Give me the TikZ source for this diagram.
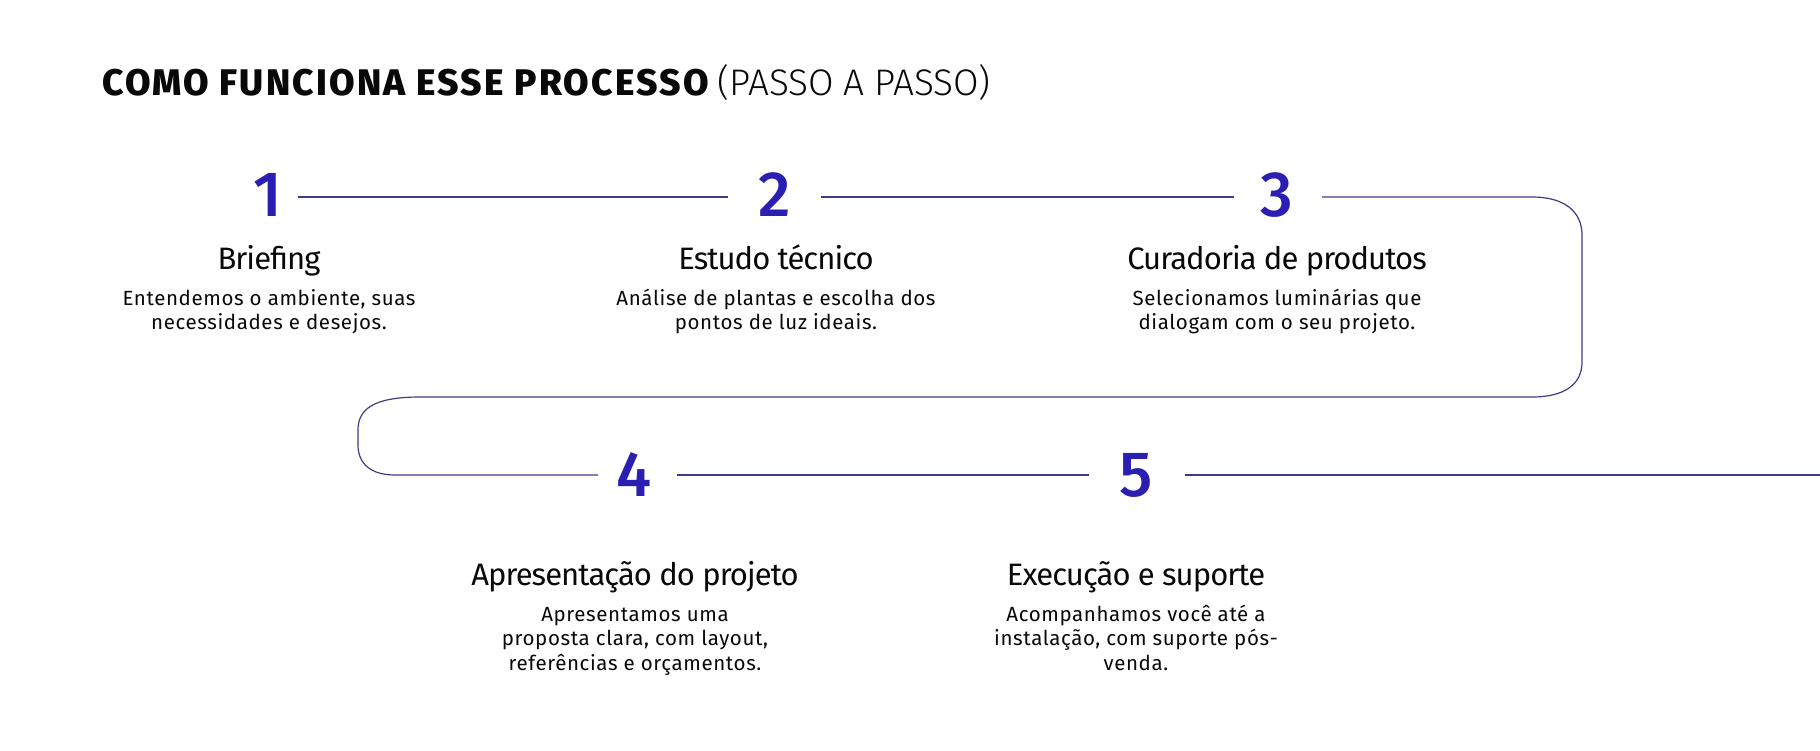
\documentclass[tikz,border=0pt]{standalone}
\usepackage{fontspec}
\setmainfont{Fira Sans}
\newfontfamily\lightfont{Fira Sans Light}[LetterSpace=-0.5]
\newfontfamily\titlefont{Fira Sans ExtraBold}[LetterSpace=6]
\newfontfamily\numfont{Fira Sans Medium}
\newfontfamily\headfont{Fira Sans}[LetterSpace=-3]
\newfontfamily\bodyfont{Fira Sans}[LetterSpace=3]
\definecolor{numblue}{RGB}{43,31,179}
\definecolor{linecol}{RGB}{62,58,140}
\definecolor{ink}{RGB}{8,8,8}
\tikzset{
  num/.style={inner sep=0pt, text=numblue, font=\numfont\fontsize{64}{64}\selectfont},
  head/.style={inner sep=0pt, anchor=base, text=ink, font=\headfont\fontsize{31}{31}\selectfont},
  body/.style={inner sep=0pt, anchor=base, align=center, text=ink, font=\bodyfont\fontsize{20.5}{24.5}\selectfont},
  conn/.style={draw=linecol, line width=1.2pt},
}
\begin{document}
\begin{tikzpicture}[x=1pt,y=-1pt]
\useasboundingbox (0,0) rectangle (1820,750);
% title
\node[anchor=base west, inner sep=0pt, text=ink] (title) at (102,95)
  {\fontsize{37}{37}\selectfont{\titlefont COMO FUNCIONA ESSE PROCESSO}\hspace{9pt}{\lightfont (PASSO A PASSO)}};
% numbers
\node[num] (n1) at (268,195) {1};
\node[num] (n2) at (775,195) {2};
\node[num] (n3) at (1277,195) {3};
\node[num] (n4) at (634,475) {4};
\node[num] (n5) at (1136,475) {5};
% connector anchors
\coordinate (a1) at (298,197);
\coordinate (b2) at (728,197);
\coordinate (a2) at (821,197);
\coordinate (b3) at (1234,197);
\coordinate (a3) at (1322,197);
\coordinate (b4) at (598,475);
\coordinate (a4) at (677,475);
\coordinate (b5) at (1089,475);
\coordinate (a5) at (1185,475);
\coordinate (endr) at (1820,475);
\draw[conn] (a1) -- (b2);
\draw[conn] (a2) -- (b3);
\draw[conn] (a3) -- (1532,197) .. controls (1565,197) and (1582,212) .. (1582,235)
  -- (1582,362) .. controls (1582,384) and (1565,397) .. (1532,397)
  -- (420,397) .. controls (372,397) and (358,410) .. (358,430)
  -- (358,445) .. controls (358,463) and (370,475) .. (395,475) -- (b4);
\draw[conn] (a4) -- (b5);
\draw[conn] (a5) -- (endr);
% step titles
\node[head] (h1) at (269,269) {Briefing};
\node[head] (h2) at (776,269) {Estudo técnico};
\node[head] (h3) at (1277,269) {Curadoria de produtos};
\node[head] (h4) at (635,585) {Apresentação do projeto};
\node[head] (h5) at (1136,585) {Execução e suporte};
% descriptions (base anchor = baseline of last line)
\node[body] (d1) at (269,329.5) {Entendemos o ambiente, suas\\necessidades e desejos.};
\node[body] (d2) at (776,329.5) {Análise de plantas e escolha dos\\pontos de luz ideais.};
\node[body] (d3) at (1277,329.5) {Selecionamos luminárias que\\dialogam com o seu projeto.};
\node[body] (d4) at (635,670) {Apresentamos uma\\proposta clara, com layout,\\referências e orçamentos.};
\node[body] (d5) at (1136,670) {Acompanhamos você até a\\instalação, com suporte pós-\\venda.};
\end{tikzpicture}
\end{document}
